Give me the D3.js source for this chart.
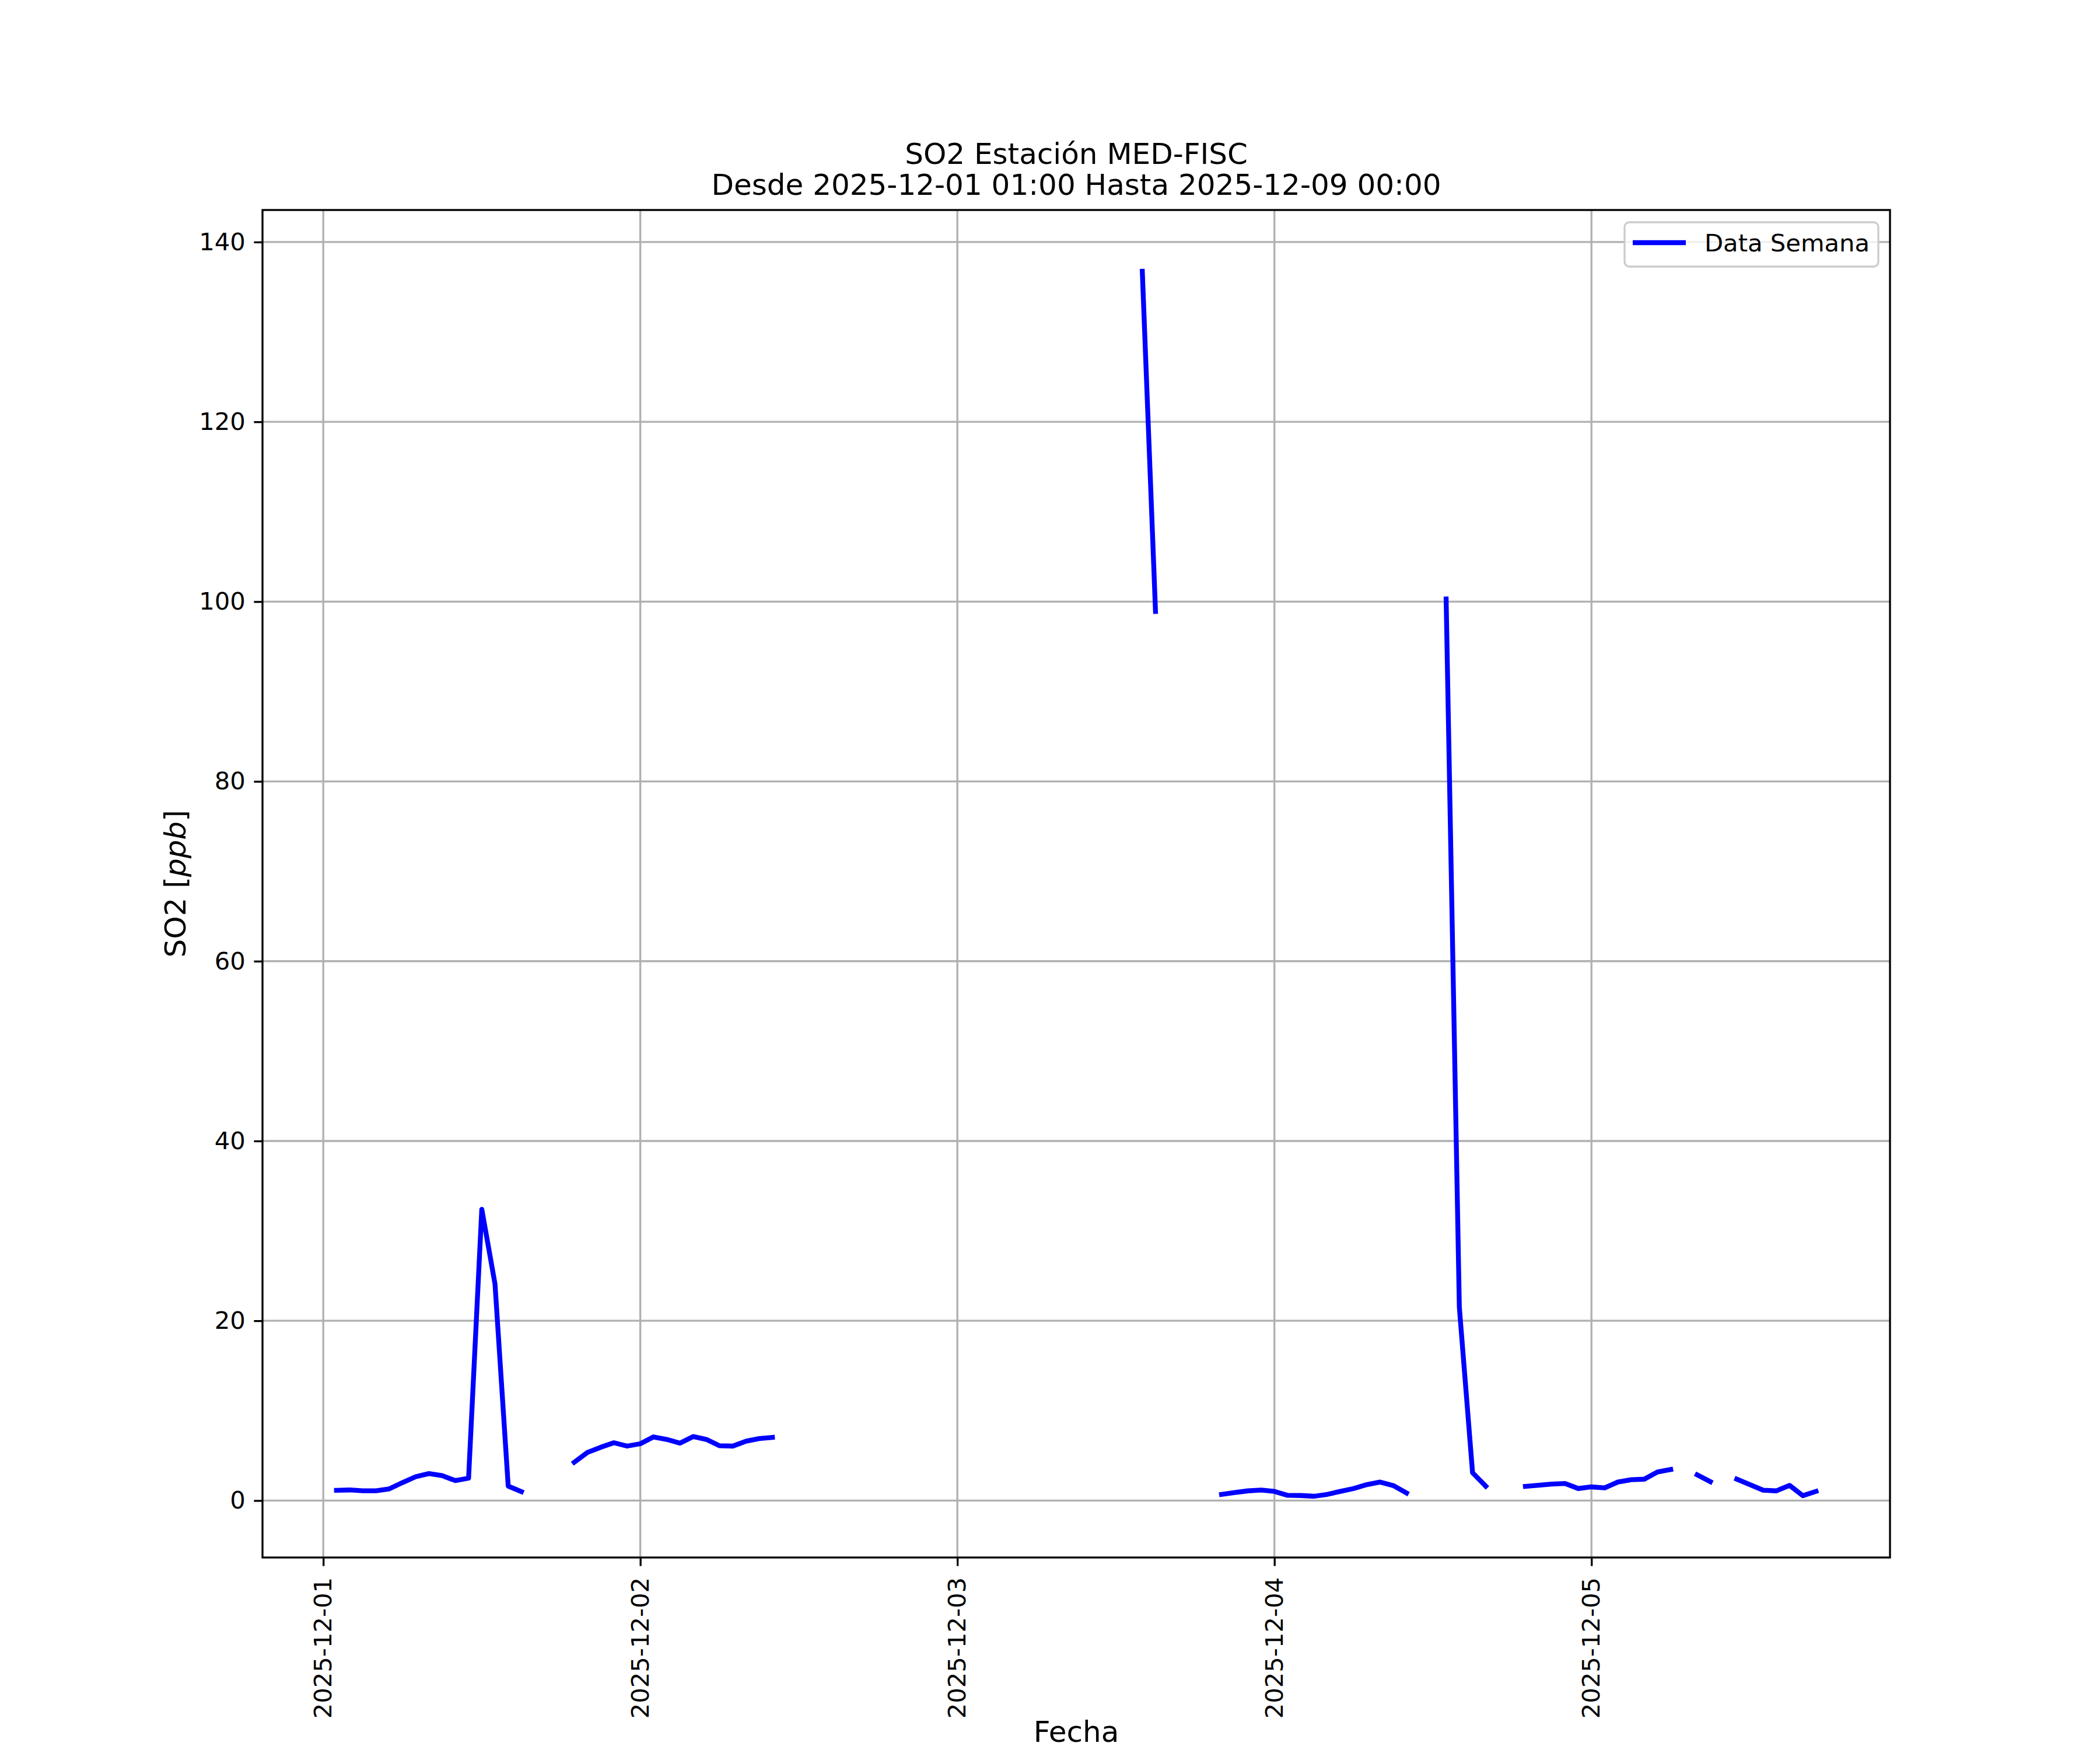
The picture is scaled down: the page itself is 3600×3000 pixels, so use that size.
<!DOCTYPE html>
<html><head><meta charset="utf-8">
<script src="https://cdn.jsdelivr.net/npm/d3@7"></script>
<style>body{margin:0;background:#fff} svg{display:block} text{font-family:"DejaVu Sans",sans-serif}</style>
</head><body>
<script>
// ---------- data ----------
const startTime = "2025-12-01T01:00:00";   // first hourly reading
const so2Values = [
  1.14, 1.18, 1.09, 1.09, 1.30, 2.00, 2.65, 3.00, 2.77, 2.22, 2.49, 32.4, 24.1, 1.61, 0.99, // 01:00-15:00 (12-01)
  null, null, null,
  4.26, 5.35, 5.93, 6.43, 6.06, 6.32, 7.08, 6.80, 6.39, 7.12, 6.80, 6.10, 6.06, 6.60, 6.90, 7.03,
  null, null, null, null, null, null, null, null, null, null, null, null, null, null, null, null,
  null, null, null, null, null, null, null, null, null, null, null,
  136.75, 98.9,
  null, null, null, null,
  0.69, 0.89, 1.08, 1.17, 1.02, 0.58, 0.56, 0.48, 0.69, 1.02, 1.34, 1.77, 2.06, 1.67, 0.84,
  null, null,
  100.3, 21.5, 3.1, 1.6,
  null, null,
  1.58, 1.71, 1.84, 1.90, 1.34, 1.52, 1.41, 2.06, 2.32, 2.38, 3.18, 3.46,
  null,
  2.86, 2.10,
  null,
  2.38, 1.77, 1.15, 1.08, 1.69, 0.54, 1.02
];
const seriesName = "Data Semana";
const xTickDates = ["2025-12-01", "2025-12-02", "2025-12-03", "2025-12-04", "2025-12-05"];
const yTicks = [0, 20, 40, 60, 80, 100, 120, 140];
const titleLines = ["SO2 Estación MED-FISC", "Desde 2025-12-01 01:00 Hasta 2025-12-09 00:00"];
const xLabel = "Fecha";

// ---------- layout ----------
const W = 3600, H = 3000;
const L = 450, R = 3240, T = 360, B = 2670;
const lw = 3.33, tickLen = 14.6, tickPad = 14.6;
const fsTick = 41.7, fsLabel = 50;

const parseT = d3.timeParse("%Y-%m-%dT%H:%M:%S");
const parseD = d3.timeParse("%Y-%m-%d");
const t0 = parseT(startTime);
const data = so2Values.map((v, i) => ({ t: d3.timeHour.offset(t0, i), v }));

const tExt = d3.extent(data, d => d.t);
const span = tExt[1] - tExt[0];
const x = d3.scaleTime()
  .domain([new Date(+tExt[0] - 0.05 * span), new Date(+tExt[1] + 0.05 * span)])
  .range([L, R]);
const vExt = d3.extent(data.filter(d => d.v != null), d => d.v);
const vSpan = vExt[1] - vExt[0];
const y = d3.scaleLinear()
  .domain([vExt[0] - 0.05 * vSpan, vExt[1] + 0.05 * vSpan])
  .range([B, T]);

const svg = d3.select("body").append("svg").attr("width", W).attr("height", H);
svg.append("rect").attr("width", W).attr("height", H).attr("fill", "#fff");

const xTicks = xTickDates.map(parseD);

// grid
const grid = svg.append("g").attr("stroke", "#b0b0b0").attr("stroke-width", lw);
grid.selectAll(".gx").data(xTicks).join("line")
  .attr("x1", d => x(d)).attr("x2", d => x(d)).attr("y1", T).attr("y2", B);
grid.selectAll(".gy").data(yTicks).join("line")
  .attr("y1", d => y(d)).attr("y2", d => y(d)).attr("x1", L).attr("x2", R);

// data line
const line = d3.line().defined(d => d.v != null).x(d => x(d.t)).y(d => y(d.v));
svg.append("path").datum(data).attr("d", line)
  .attr("fill", "none").attr("stroke", "#0000ff").attr("stroke-width", 8.33)
  .attr("stroke-linejoin", "round").attr("stroke-linecap", "square");

// spines
svg.append("rect").attr("x", L).attr("y", T).attr("width", R - L).attr("height", B - T)
  .attr("fill", "none").attr("stroke", "#000").attr("stroke-width", lw);

// x axis
const gx = svg.append("g").attr("transform", `translate(0,${B})`)
  .call(d3.axisBottom(x).tickValues(xTicks).tickFormat(d3.timeFormat("%Y-%m-%d"))
    .tickSize(tickLen).tickPadding(tickPad));
gx.select(".domain").remove();
gx.selectAll(".tick line").attr("stroke", "#000").attr("stroke-width", lw);
gx.selectAll(".tick text")
  .attr("x", 0).attr("y", 0).attr("dy", "0.33em")
  .attr("transform", "translate(0,34) rotate(-90)")
  .attr("text-anchor", "end")
  .attr("font-family", "DejaVu Sans").attr("font-size", fsTick).attr("fill", "#000");

// y axis
const gy = svg.append("g").attr("transform", `translate(${L},0)`)
  .call(d3.axisLeft(y).tickValues(yTicks).tickFormat(d3.format("d"))
    .tickSize(tickLen).tickPadding(tickPad));
gy.select(".domain").remove();
gy.selectAll(".tick line").attr("stroke", "#000").attr("stroke-width", lw);
gy.selectAll(".tick text")
  .attr("font-family", "DejaVu Sans").attr("font-size", fsTick).attr("fill", "#000");

// axis labels
svg.append("text").attr("x", (L + R) / 2).attr("y", 2986).attr("text-anchor", "middle")
  .attr("font-size", fsLabel).text(xLabel);
const yl = svg.append("text").attr("transform", `translate(318,${(T + B) / 2}) rotate(-90)`)
  .attr("text-anchor", "middle").attr("font-size", fsLabel);
yl.append("tspan").text("SO2 [");
yl.append("tspan").attr("font-style", "italic").text("ppb");
yl.append("tspan").text("]");

// title
svg.selectAll(".title").data(titleLines).join("text")
  .attr("x", (L + R) / 2).attr("y", (d, i) => 281 + i * 53)
  .attr("text-anchor", "middle").attr("font-size", fsLabel).text(d => d);

// legend
const lg = svg.append("g");
lg.append("rect").attr("x", 2785).attr("y", 381).attr("width", 435).attr("height", 76)
  .attr("rx", 8).attr("fill", "#fff").attr("fill-opacity", 0.8)
  .attr("stroke", "#cccccc").attr("stroke-width", lw);
lg.append("line").attr("x1", 2799).attr("x2", 2890).attr("y1", 416).attr("y2", 416)
  .attr("stroke", "#0000ff").attr("stroke-width", 8.33);
lg.append("text").attr("x", 2922).attr("y", 431).attr("font-size", fsTick).text(seriesName);
</script>
</body></html>
